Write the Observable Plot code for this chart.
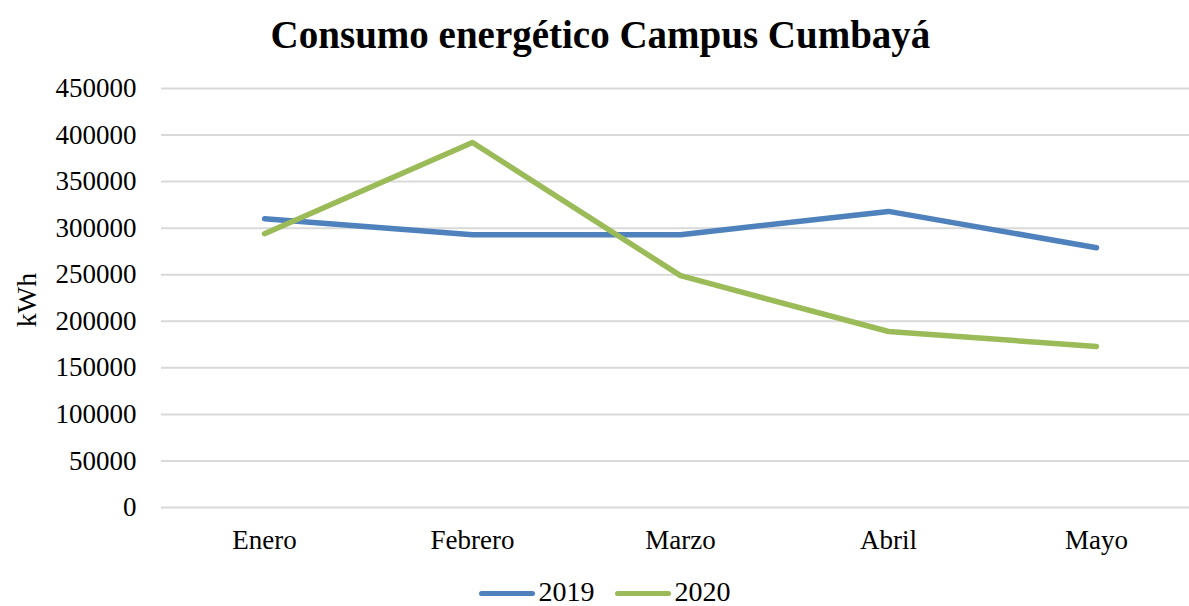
<!DOCTYPE html>
<html>
<head>
<meta charset="utf-8">
<script src="https://cdn.jsdelivr.net/npm/d3@7"></script>
<script src="https://cdn.jsdelivr.net/npm/@observablehq/plot@0.6"></script>
<style>
  html, body { margin: 0; padding: 0; background: #fff; }
  body { width: 1189px; height: 606px; overflow: hidden; font-family: "Liberation Serif", serif; }
  #title { height: 70px; line-height: 70px; text-align: center; font-weight: bold; font-size: 39px; color: #000; padding-left: 12px; }
  #legend { position: absolute; top: 578px; left: 0; width: 1189px; height: 28px; display: flex; justify-content: center; align-items: center; font-size: 28px; line-height: 1; color: #000; padding-left: 20px; box-sizing: border-box; }
  .item { display: flex; align-items: center; margin: 0 10px; }
  .item span { line-height: 1; }
  .sw { width: 56px; height: 5px; border-radius: 3px; margin-right: 4px; margin-top: 2px; }
  #chart { position: absolute; top: 70px; left: 0; }
</style>
</head>
<body>
<div id="title">Consumo energético Campus Cumbayá</div>
<div id="chart"></div>
<div id="legend"></div>
<script>
const months = ["Enero", "Febrero", "Marzo", "Abril", "Mayo"];
const series = ["2019", "2020"];
const values2019 = [310000, 293000, 293000, 318000, 279000];
const values2020 = [294000, 392000, 249000, 189000, 173000];
const yTicks = [0, 50000, 100000, 150000, 200000, 250000, 300000, 350000, 400000, 450000];
const colors = ["#4F81BD", "#9BBB59"];

const data = [];
months.forEach((m, i) => {
  data.push({month: m, year: series[0], value: values2019[i]});
  data.push({month: m, year: series[1], value: values2020[i]});
});

const chart = Plot.plot({
  width: 1189,
  height: 500,
  marginLeft: 161,
  marginRight: 0,
  marginTop: 18,
  marginBottom: 63,
  style: { fontFamily: "Liberation Serif, serif", fontSize: "27px", color: "#000", background: "#fff" },
  x: { type: "point", domain: months, range: [263, 1096], padding: 0, label: null },
  y: { domain: [0, 450000], ticks: yTicks, label: null },
  color: { domain: series, range: colors },
  marks: [
    Plot.ruleY(yTicks, { stroke: "#D9D9D9", strokeWidth: 2 }),
    Plot.axisY({ ticks: yTicks, tickSize: 0, tickPadding: 25, tickFormat: d => String(d), fontSize: 27, label: null }),
    Plot.axisX({ tickSize: 0, tickPadding: 22, fontSize: 27, label: null }),
    Plot.line(data, { x: "month", y: "value", z: "year", stroke: "year", strokeWidth: 5.5, strokeLinecap: "round", strokeLinejoin: "round" })
  ]
});
document.getElementById("chart").appendChild(chart);

// y-axis title
const svg = d3.select(chart);
svg.append("text")
  .attr("transform", "translate(36,230) rotate(-90)")
  .attr("text-anchor", "middle")
  .attr("font-size", 28)
  .attr("font-family", "Liberation Serif, serif")
  .attr("fill", "#000")
  .text("kWh");

const legend = document.getElementById("legend");
series.forEach((s, i) => {
  const item = document.createElement("div");
  item.className = "item";
  const sw = document.createElement("div");
  sw.className = "sw";
  sw.style.background = colors[i];
  const t = document.createElement("span");
  t.textContent = s;
  item.appendChild(sw);
  item.appendChild(t);
  legend.appendChild(item);
});
</script>
</body>
</html>
